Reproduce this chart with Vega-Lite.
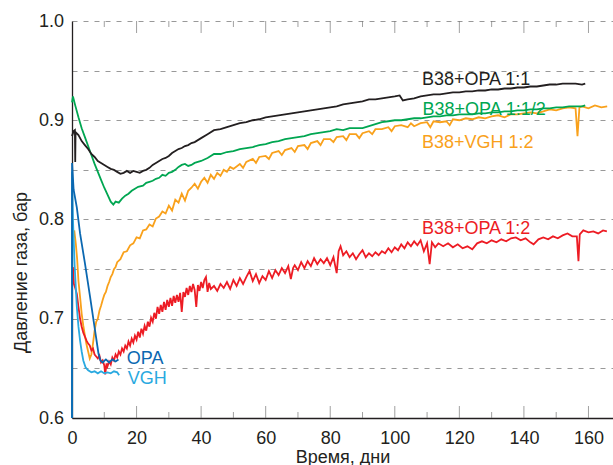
{
  "$schema": "https://vega.github.io/schema/vega-lite/v6.json",
  "width": 541,
  "height": 397,
  "autosize": {"type": "none"},
  "padding": {"left": 72, "top": 21, "right": 0, "bottom": 47},
  "background": "white",
  "config": {
    "view": {"stroke": null},
    "font": "Liberation Sans",
    "axis": {"labelFont": "Liberation Sans", "titleFont": "Liberation Sans", "labelFontSize": 18, "titleFontSize": 18, "labelColor": "#231f20", "titleColor": "#231f20", "titleFontWeight": "normal", "domainColor": "#231f20", "domainWidth": 1.3}
  },
  "datasets": {
    "lines": [
      {"series":"B38+VGH 1:2","t":0.7,"p":0.789},{"series":"B38+VGH 1:2","t":1.2,"p":0.775},{"series":"B38+VGH 1:2","t":1.6,"p":0.760},{"series":"B38+VGH 1:2","t":2,"p":0.738},{"series":"B38+VGH 1:2","t":2.5,"p":0.722},{"series":"B38+VGH 1:2","t":3,"p":0.705},{"series":"B38+VGH 1:2","t":3.5,"p":0.693},{"series":"B38+VGH 1:2","t":4,"p":0.683},{"series":"B38+VGH 1:2","t":4.5,"p":0.674},{"series":"B38+VGH 1:2","t":5,"p":0.667},{"series":"B38+VGH 1:2","t":5.5,"p":0.660},{"series":"B38+VGH 1:2","t":6,"p":0.664},{"series":"B38+VGH 1:2","t":6.5,"p":0.675},{"series":"B38+VGH 1:2","t":7,"p":0.688},{"series":"B38+VGH 1:2","t":7.5,"p":0.697},{"series":"B38+VGH 1:2","t":8,"p":0.700},{"series":"B38+VGH 1:2","t":8.5,"p":0.708},{"series":"B38+VGH 1:2","t":9,"p":0.713},{"series":"B38+VGH 1:2","t":9.5,"p":0.719},{"series":"B38+VGH 1:2","t":10,"p":0.724},{"series":"B38+VGH 1:2","t":10.5,"p":0.727},{"series":"B38+VGH 1:2","t":11,"p":0.733},{"series":"B38+VGH 1:2","t":11.5,"p":0.737},{"series":"B38+VGH 1:2","t":12,"p":0.742},{"series":"B38+VGH 1:2","t":12.5,"p":0.745},{"series":"B38+VGH 1:2","t":13,"p":0.750},{"series":"B38+VGH 1:2","t":13.5,"p":0.752},{"series":"B38+VGH 1:2","t":14,"p":0.757},{"series":"B38+VGH 1:2","t":15,"p":0.760},{"series":"B38+VGH 1:2","t":16,"p":0.767},{"series":"B38+VGH 1:2","t":17,"p":0.768},{"series":"B38+VGH 1:2","t":18,"p":0.774},{"series":"B38+VGH 1:2","t":19,"p":0.776},{"series":"B38+VGH 1:2","t":20,"p":0.782},{"series":"B38+VGH 1:2","t":21,"p":0.781},{"series":"B38+VGH 1:2","t":22,"p":0.789},{"series":"B38+VGH 1:2","t":23,"p":0.790},{"series":"B38+VGH 1:2","t":24,"p":0.795},{"series":"B38+VGH 1:2","t":25,"p":0.793},{"series":"B38+VGH 1:2","t":26,"p":0.801},{"series":"B38+VGH 1:2","t":27,"p":0.803},{"series":"B38+VGH 1:2","t":28,"p":0.808},{"series":"B38+VGH 1:2","t":29,"p":0.806},{"series":"B38+VGH 1:2","t":30,"p":0.814},{"series":"B38+VGH 1:2","t":31,"p":0.809},{"series":"B38+VGH 1:2","t":32,"p":0.820},{"series":"B38+VGH 1:2","t":33,"p":0.817},{"series":"B38+VGH 1:2","t":34,"p":0.826},{"series":"B38+VGH 1:2","t":35,"p":0.819},{"series":"B38+VGH 1:2","t":36,"p":0.829},{"series":"B38+VGH 1:2","t":37,"p":0.832},{"series":"B38+VGH 1:2","t":38,"p":0.836},{"series":"B38+VGH 1:2","t":39,"p":0.831},{"series":"B38+VGH 1:2","t":40,"p":0.838},{"series":"B38+VGH 1:2","t":41,"p":0.842},{"series":"B38+VGH 1:2","t":42,"p":0.837},{"series":"B38+VGH 1:2","t":43,"p":0.845},{"series":"B38+VGH 1:2","t":44,"p":0.841},{"series":"B38+VGH 1:2","t":45,"p":0.847},{"series":"B38+VGH 1:2","t":46,"p":0.844},{"series":"B38+VGH 1:2","t":47,"p":0.850},{"series":"B38+VGH 1:2","t":48,"p":0.848},{"series":"B38+VGH 1:2","t":49,"p":0.853},{"series":"B38+VGH 1:2","t":50,"p":0.851},{"series":"B38+VGH 1:2","t":52,"p":0.856},{"series":"B38+VGH 1:2","t":53,"p":0.852},{"series":"B38+VGH 1:2","t":54,"p":0.858},{"series":"B38+VGH 1:2","t":56,"p":0.861},{"series":"B38+VGH 1:2","t":57,"p":0.857},{"series":"B38+VGH 1:2","t":58,"p":0.863},{"series":"B38+VGH 1:2","t":60,"p":0.864},{"series":"B38+VGH 1:2","t":61,"p":0.861},{"series":"B38+VGH 1:2","t":62,"p":0.867},{"series":"B38+VGH 1:2","t":64,"p":0.869},{"series":"B38+VGH 1:2","t":65,"p":0.865},{"series":"B38+VGH 1:2","t":66,"p":0.870},{"series":"B38+VGH 1:2","t":68,"p":0.872},{"series":"B38+VGH 1:2","t":69,"p":0.868},{"series":"B38+VGH 1:2","t":70,"p":0.874},{"series":"B38+VGH 1:2","t":72,"p":0.875},{"series":"B38+VGH 1:2","t":73,"p":0.871},{"series":"B38+VGH 1:2","t":74,"p":0.877},{"series":"B38+VGH 1:2","t":76,"p":0.879},{"series":"B38+VGH 1:2","t":77,"p":0.875},{"series":"B38+VGH 1:2","t":78,"p":0.881},{"series":"B38+VGH 1:2","t":80,"p":0.881},{"series":"B38+VGH 1:2","t":81,"p":0.878},{"series":"B38+VGH 1:2","t":82,"p":0.883},{"series":"B38+VGH 1:2","t":84,"p":0.884},{"series":"B38+VGH 1:2","t":85,"p":0.880},{"series":"B38+VGH 1:2","t":86,"p":0.886},{"series":"B38+VGH 1:2","t":88,"p":0.886},{"series":"B38+VGH 1:2","t":89,"p":0.882},{"series":"B38+VGH 1:2","t":90,"p":0.887},{"series":"B38+VGH 1:2","t":92,"p":0.889},{"series":"B38+VGH 1:2","t":93,"p":0.886},{"series":"B38+VGH 1:2","t":94,"p":0.891},{"series":"B38+VGH 1:2","t":96,"p":0.891},{"series":"B38+VGH 1:2","t":98,"p":0.893},{"series":"B38+VGH 1:2","t":99,"p":0.889},{"series":"B38+VGH 1:2","t":100,"p":0.894},{"series":"B38+VGH 1:2","t":102,"p":0.895},{"series":"B38+VGH 1:2","t":104,"p":0.893},{"series":"B38+VGH 1:2","t":105,"p":0.897},{"series":"B38+VGH 1:2","t":106,"p":0.894},{"series":"B38+VGH 1:2","t":108,"p":0.897},{"series":"B38+VGH 1:2","t":110,"p":0.898},{"series":"B38+VGH 1:2","t":111,"p":0.893},{"series":"B38+VGH 1:2","t":112,"p":0.899},{"series":"B38+VGH 1:2","t":114,"p":0.898},{"series":"B38+VGH 1:2","t":116,"p":0.899},{"series":"B38+VGH 1:2","t":117,"p":0.895},{"series":"B38+VGH 1:2","t":118,"p":0.901},{"series":"B38+VGH 1:2","t":120,"p":0.900},{"series":"B38+VGH 1:2","t":122,"p":0.902},{"series":"B38+VGH 1:2","t":124,"p":0.901},{"series":"B38+VGH 1:2","t":126,"p":0.903},{"series":"B38+VGH 1:2","t":128,"p":0.902},{"series":"B38+VGH 1:2","t":130,"p":0.904},{"series":"B38+VGH 1:2","t":132,"p":0.905},{"series":"B38+VGH 1:2","t":134,"p":0.903},{"series":"B38+VGH 1:2","t":136,"p":0.906},{"series":"B38+VGH 1:2","t":138,"p":0.906},{"series":"B38+VGH 1:2","t":140,"p":0.907},{"series":"B38+VGH 1:2","t":142,"p":0.908},{"series":"B38+VGH 1:2","t":144,"p":0.907},{"series":"B38+VGH 1:2","t":146,"p":0.909},{"series":"B38+VGH 1:2","t":148,"p":0.911},{"series":"B38+VGH 1:2","t":150,"p":0.910},{"series":"B38+VGH 1:2","t":152,"p":0.912},{"series":"B38+VGH 1:2","t":154,"p":0.913},{"series":"B38+VGH 1:2","t":156,"p":0.912},{"series":"B38+VGH 1:2","t":156.6,"p":0.884},{"series":"B38+VGH 1:2","t":157.2,"p":0.913},{"series":"B38+VGH 1:2","t":158,"p":0.914},{"series":"B38+VGH 1:2","t":160,"p":0.912},{"series":"B38+VGH 1:2","t":162,"p":0.915},{"series":"B38+VGH 1:2","t":164,"p":0.913},{"series":"B38+VGH 1:2","t":165.8,"p":0.914},

      {"series":"B38+OPA 1:1/2","t":0,"p":0.918},{"series":"B38+OPA 1:1/2","t":0.3,"p":0.924},{"series":"B38+OPA 1:1/2","t":1,"p":0.915},{"series":"B38+OPA 1:1/2","t":2,"p":0.903},{"series":"B38+OPA 1:1/2","t":3,"p":0.892},{"series":"B38+OPA 1:1/2","t":4,"p":0.883},{"series":"B38+OPA 1:1/2","t":5,"p":0.874},{"series":"B38+OPA 1:1/2","t":6,"p":0.865},{"series":"B38+OPA 1:1/2","t":7,"p":0.856},{"series":"B38+OPA 1:1/2","t":8,"p":0.848},{"series":"B38+OPA 1:1/2","t":9,"p":0.840},{"series":"B38+OPA 1:1/2","t":10,"p":0.832},{"series":"B38+OPA 1:1/2","t":11,"p":0.825},{"series":"B38+OPA 1:1/2","t":12,"p":0.818},{"series":"B38+OPA 1:1/2","t":12.8,"p":0.815},{"series":"B38+OPA 1:1/2","t":13.5,"p":0.818},{"series":"B38+OPA 1:1/2","t":14.5,"p":0.817},{"series":"B38+OPA 1:1/2","t":15.5,"p":0.821},{"series":"B38+OPA 1:1/2","t":16.5,"p":0.824},{"series":"B38+OPA 1:1/2","t":17.5,"p":0.826},{"series":"B38+OPA 1:1/2","t":18.5,"p":0.829},{"series":"B38+OPA 1:1/2","t":19.5,"p":0.831},{"series":"B38+OPA 1:1/2","t":20.5,"p":0.833},{"series":"B38+OPA 1:1/2","t":22,"p":0.834},{"series":"B38+OPA 1:1/2","t":23,"p":0.837},{"series":"B38+OPA 1:1/2","t":24,"p":0.838},{"series":"B38+OPA 1:1/2","t":25,"p":0.839},{"series":"B38+OPA 1:1/2","t":26,"p":0.841},{"series":"B38+OPA 1:1/2","t":27,"p":0.842},{"series":"B38+OPA 1:1/2","t":28,"p":0.845},{"series":"B38+OPA 1:1/2","t":29,"p":0.844},{"series":"B38+OPA 1:1/2","t":30,"p":0.847},{"series":"B38+OPA 1:1/2","t":31,"p":0.848},{"series":"B38+OPA 1:1/2","t":32,"p":0.850},{"series":"B38+OPA 1:1/2","t":33,"p":0.853},{"series":"B38+OPA 1:1/2","t":34,"p":0.855},{"series":"B38+OPA 1:1/2","t":35,"p":0.856},{"series":"B38+OPA 1:1/2","t":36,"p":0.854},{"series":"B38+OPA 1:1/2","t":37,"p":0.855},{"series":"B38+OPA 1:1/2","t":38,"p":0.857},{"series":"B38+OPA 1:1/2","t":40,"p":0.859},{"series":"B38+OPA 1:1/2","t":42,"p":0.862},{"series":"B38+OPA 1:1/2","t":44,"p":0.866},{"series":"B38+OPA 1:1/2","t":46,"p":0.866},{"series":"B38+OPA 1:1/2","t":48,"p":0.868},{"series":"B38+OPA 1:1/2","t":50,"p":0.869},{"series":"B38+OPA 1:1/2","t":52,"p":0.871},{"series":"B38+OPA 1:1/2","t":54,"p":0.872},{"series":"B38+OPA 1:1/2","t":56,"p":0.873},{"series":"B38+OPA 1:1/2","t":58,"p":0.875},{"series":"B38+OPA 1:1/2","t":60,"p":0.876},{"series":"B38+OPA 1:1/2","t":62,"p":0.878},{"series":"B38+OPA 1:1/2","t":64,"p":0.879},{"series":"B38+OPA 1:1/2","t":66,"p":0.881},{"series":"B38+OPA 1:1/2","t":68,"p":0.882},{"series":"B38+OPA 1:1/2","t":70,"p":0.883},{"series":"B38+OPA 1:1/2","t":72,"p":0.884},{"series":"B38+OPA 1:1/2","t":74,"p":0.886},{"series":"B38+OPA 1:1/2","t":76,"p":0.887},{"series":"B38+OPA 1:1/2","t":78,"p":0.888},{"series":"B38+OPA 1:1/2","t":80,"p":0.889},{"series":"B38+OPA 1:1/2","t":82,"p":0.891},{"series":"B38+OPA 1:1/2","t":84,"p":0.890},{"series":"B38+OPA 1:1/2","t":86,"p":0.892},{"series":"B38+OPA 1:1/2","t":88,"p":0.892},{"series":"B38+OPA 1:1/2","t":90,"p":0.892},{"series":"B38+OPA 1:1/2","t":92,"p":0.894},{"series":"B38+OPA 1:1/2","t":94,"p":0.896},{"series":"B38+OPA 1:1/2","t":96,"p":0.898},{"series":"B38+OPA 1:1/2","t":98,"p":0.899},{"series":"B38+OPA 1:1/2","t":100,"p":0.900},{"series":"B38+OPA 1:1/2","t":102,"p":0.900},{"series":"B38+OPA 1:1/2","t":104,"p":0.901},{"series":"B38+OPA 1:1/2","t":106,"p":0.902},{"series":"B38+OPA 1:1/2","t":108,"p":0.902},{"series":"B38+OPA 1:1/2","t":110,"p":0.903},{"series":"B38+OPA 1:1/2","t":112,"p":0.904},{"series":"B38+OPA 1:1/2","t":114,"p":0.904},{"series":"B38+OPA 1:1/2","t":116,"p":0.905},{"series":"B38+OPA 1:1/2","t":118,"p":0.905},{"series":"B38+OPA 1:1/2","t":120,"p":0.906},{"series":"B38+OPA 1:1/2","t":122,"p":0.906},{"series":"B38+OPA 1:1/2","t":124,"p":0.906},{"series":"B38+OPA 1:1/2","t":126,"p":0.907},{"series":"B38+OPA 1:1/2","t":128,"p":0.907},{"series":"B38+OPA 1:1/2","t":130,"p":0.908},{"series":"B38+OPA 1:1/2","t":132,"p":0.908},{"series":"B38+OPA 1:1/2","t":134,"p":0.909},{"series":"B38+OPA 1:1/2","t":136,"p":0.909},{"series":"B38+OPA 1:1/2","t":138,"p":0.910},{"series":"B38+OPA 1:1/2","t":140,"p":0.910},{"series":"B38+OPA 1:1/2","t":142,"p":0.911},{"series":"B38+OPA 1:1/2","t":144,"p":0.911},{"series":"B38+OPA 1:1/2","t":146,"p":0.912},{"series":"B38+OPA 1:1/2","t":148,"p":0.912},{"series":"B38+OPA 1:1/2","t":150,"p":0.913},{"series":"B38+OPA 1:1/2","t":152,"p":0.913},{"series":"B38+OPA 1:1/2","t":154,"p":0.914},{"series":"B38+OPA 1:1/2","t":156,"p":0.914},{"series":"B38+OPA 1:1/2","t":158,"p":0.914},{"series":"B38+OPA 1:1/2","t":159,"p":0.915},

      {"series":"B38+OPA 1:1","t":0,"p":0.884},{"series":"B38+OPA 1:1","t":0.5,"p":0.889},{"series":"B38+OPA 1:1","t":0.9,"p":0.890},{"series":"B38+OPA 1:1","t":1.0,"p":0.858},{"series":"B38+OPA 1:1","t":1.1,"p":0.888},{"series":"B38+OPA 1:1","t":2,"p":0.885},{"series":"B38+OPA 1:1","t":3,"p":0.879},{"series":"B38+OPA 1:1","t":4,"p":0.875},{"series":"B38+OPA 1:1","t":5,"p":0.871},{"series":"B38+OPA 1:1","t":6,"p":0.866},{"series":"B38+OPA 1:1","t":7,"p":0.863},{"series":"B38+OPA 1:1","t":8,"p":0.859},{"series":"B38+OPA 1:1","t":9,"p":0.857},{"series":"B38+OPA 1:1","t":10,"p":0.855},{"series":"B38+OPA 1:1","t":11,"p":0.853},{"series":"B38+OPA 1:1","t":12,"p":0.851},{"series":"B38+OPA 1:1","t":13,"p":0.850},{"series":"B38+OPA 1:1","t":14,"p":0.848},{"series":"B38+OPA 1:1","t":15,"p":0.846},{"series":"B38+OPA 1:1","t":16,"p":0.847},{"series":"B38+OPA 1:1","t":17,"p":0.849},{"series":"B38+OPA 1:1","t":18,"p":0.847},{"series":"B38+OPA 1:1","t":19,"p":0.849},{"series":"B38+OPA 1:1","t":20,"p":0.848},{"series":"B38+OPA 1:1","t":21,"p":0.847},{"series":"B38+OPA 1:1","t":22,"p":0.849},{"series":"B38+OPA 1:1","t":23,"p":0.850},{"series":"B38+OPA 1:1","t":24,"p":0.852},{"series":"B38+OPA 1:1","t":25,"p":0.855},{"series":"B38+OPA 1:1","t":26,"p":0.857},{"series":"B38+OPA 1:1","t":27,"p":0.859},{"series":"B38+OPA 1:1","t":28,"p":0.861},{"series":"B38+OPA 1:1","t":29,"p":0.862},{"series":"B38+OPA 1:1","t":30,"p":0.864},{"series":"B38+OPA 1:1","t":31,"p":0.867},{"series":"B38+OPA 1:1","t":32,"p":0.869},{"series":"B38+OPA 1:1","t":33,"p":0.871},{"series":"B38+OPA 1:1","t":34,"p":0.872},{"series":"B38+OPA 1:1","t":35,"p":0.874},{"series":"B38+OPA 1:1","t":36,"p":0.875},{"series":"B38+OPA 1:1","t":37,"p":0.877},{"series":"B38+OPA 1:1","t":38,"p":0.878},{"series":"B38+OPA 1:1","t":40,"p":0.882},{"series":"B38+OPA 1:1","t":42,"p":0.886},{"series":"B38+OPA 1:1","t":44,"p":0.890},{"series":"B38+OPA 1:1","t":46,"p":0.891},{"series":"B38+OPA 1:1","t":48,"p":0.893},{"series":"B38+OPA 1:1","t":50,"p":0.895},{"series":"B38+OPA 1:1","t":52,"p":0.897},{"series":"B38+OPA 1:1","t":54,"p":0.898},{"series":"B38+OPA 1:1","t":56,"p":0.900},{"series":"B38+OPA 1:1","t":58,"p":0.901},{"series":"B38+OPA 1:1","t":60,"p":0.903},{"series":"B38+OPA 1:1","t":62,"p":0.904},{"series":"B38+OPA 1:1","t":64,"p":0.905},{"series":"B38+OPA 1:1","t":66,"p":0.906},{"series":"B38+OPA 1:1","t":68,"p":0.907},{"series":"B38+OPA 1:1","t":70,"p":0.908},{"series":"B38+OPA 1:1","t":72,"p":0.909},{"series":"B38+OPA 1:1","t":74,"p":0.910},{"series":"B38+OPA 1:1","t":76,"p":0.911},{"series":"B38+OPA 1:1","t":78,"p":0.912},{"series":"B38+OPA 1:1","t":80,"p":0.913},{"series":"B38+OPA 1:1","t":82,"p":0.914},{"series":"B38+OPA 1:1","t":84,"p":0.916},{"series":"B38+OPA 1:1","t":86,"p":0.917},{"series":"B38+OPA 1:1","t":88,"p":0.918},{"series":"B38+OPA 1:1","t":90,"p":0.919},{"series":"B38+OPA 1:1","t":92,"p":0.921},{"series":"B38+OPA 1:1","t":94,"p":0.921},{"series":"B38+OPA 1:1","t":96,"p":0.922},{"series":"B38+OPA 1:1","t":98,"p":0.923},{"series":"B38+OPA 1:1","t":100,"p":0.924},{"series":"B38+OPA 1:1","t":101.5,"p":0.925},{"series":"B38+OPA 1:1","t":102.5,"p":0.920},{"series":"B38+OPA 1:1","t":104,"p":0.921},{"series":"B38+OPA 1:1","t":106,"p":0.922},{"series":"B38+OPA 1:1","t":108,"p":0.924},{"series":"B38+OPA 1:1","t":110,"p":0.925},{"series":"B38+OPA 1:1","t":112,"p":0.926},{"series":"B38+OPA 1:1","t":114,"p":0.926},{"series":"B38+OPA 1:1","t":116,"p":0.927},{"series":"B38+OPA 1:1","t":118,"p":0.928},{"series":"B38+OPA 1:1","t":120,"p":0.928},{"series":"B38+OPA 1:1","t":122,"p":0.929},{"series":"B38+OPA 1:1","t":124,"p":0.929},{"series":"B38+OPA 1:1","t":126,"p":0.930},{"series":"B38+OPA 1:1","t":128,"p":0.930},{"series":"B38+OPA 1:1","t":130,"p":0.931},{"series":"B38+OPA 1:1","t":132,"p":0.931},{"series":"B38+OPA 1:1","t":134,"p":0.932},{"series":"B38+OPA 1:1","t":136,"p":0.932},{"series":"B38+OPA 1:1","t":138,"p":0.933},{"series":"B38+OPA 1:1","t":140,"p":0.933},{"series":"B38+OPA 1:1","t":142,"p":0.934},{"series":"B38+OPA 1:1","t":144,"p":0.934},{"series":"B38+OPA 1:1","t":146,"p":0.935},{"series":"B38+OPA 1:1","t":148,"p":0.936},{"series":"B38+OPA 1:1","t":150,"p":0.936},{"series":"B38+OPA 1:1","t":152,"p":0.937},{"series":"B38+OPA 1:1","t":154,"p":0.937},{"series":"B38+OPA 1:1","t":156,"p":0.937},{"series":"B38+OPA 1:1","t":158,"p":0.936},{"series":"B38+OPA 1:1","t":159,"p":0.937},

      {"series":"B38+OPA 1:2","t":0.3,"p":0.752},{"series":"B38+OPA 1:2","t":0.6,"p":0.735},{"series":"B38+OPA 1:2","t":1,"p":0.731},{"series":"B38+OPA 1:2","t":1.5,"p":0.725},{"series":"B38+OPA 1:2","t":2,"p":0.712},{"series":"B38+OPA 1:2","t":2.5,"p":0.700},{"series":"B38+OPA 1:2","t":3,"p":0.692},{"series":"B38+OPA 1:2","t":3.5,"p":0.686},{"series":"B38+OPA 1:2","t":4,"p":0.682},{"series":"B38+OPA 1:2","t":4.5,"p":0.678},{"series":"B38+OPA 1:2","t":5,"p":0.675},{"series":"B38+OPA 1:2","t":5.5,"p":0.673},{"series":"B38+OPA 1:2","t":6,"p":0.668},{"series":"B38+OPA 1:2","t":6.5,"p":0.670},{"series":"B38+OPA 1:2","t":7,"p":0.664},{"series":"B38+OPA 1:2","t":7.5,"p":0.662},{"series":"B38+OPA 1:2","t":8,"p":0.660},{"series":"B38+OPA 1:2","t":8.5,"p":0.663},{"series":"B38+OPA 1:2","t":9,"p":0.656},{"series":"B38+OPA 1:2","t":9.5,"p":0.658},{"series":"B38+OPA 1:2","t":10,"p":0.653},{"series":"B38+OPA 1:2","t":10.3,"p":0.644},{"series":"B38+OPA 1:2","t":10.7,"p":0.655},{"series":"B38+OPA 1:2","t":11,"p":0.652},{"series":"B38+OPA 1:2","t":11.5,"p":0.657},{"series":"B38+OPA 1:2","t":12,"p":0.654},{"series":"B38+OPA 1:2","t":12.5,"p":0.661},{"series":"B38+OPA 1:2","t":13,"p":0.658},{"series":"B38+OPA 1:2","t":13.5,"p":0.664},{"series":"B38+OPA 1:2","t":14,"p":0.661},{"series":"B38+OPA 1:2","t":14.5,"p":0.667},{"series":"B38+OPA 1:2","t":15,"p":0.664},{"series":"B38+OPA 1:2","t":15.5,"p":0.670},{"series":"B38+OPA 1:2","t":16,"p":0.667},{"series":"B38+OPA 1:2","t":16.5,"p":0.673},{"series":"B38+OPA 1:2","t":17,"p":0.670},{"series":"B38+OPA 1:2","t":17.5,"p":0.677},{"series":"B38+OPA 1:2","t":18,"p":0.673},{"series":"B38+OPA 1:2","t":18.5,"p":0.680},{"series":"B38+OPA 1:2","t":19,"p":0.676},{"series":"B38+OPA 1:2","t":19.5,"p":0.683},{"series":"B38+OPA 1:2","t":20,"p":0.679},{"series":"B38+OPA 1:2","t":20.5,"p":0.687},{"series":"B38+OPA 1:2","t":21,"p":0.681},{"series":"B38+OPA 1:2","t":21.5,"p":0.690},{"series":"B38+OPA 1:2","t":22,"p":0.685},{"series":"B38+OPA 1:2","t":22.5,"p":0.693},{"series":"B38+OPA 1:2","t":23,"p":0.688},{"series":"B38+OPA 1:2","t":23.5,"p":0.697},{"series":"B38+OPA 1:2","t":24,"p":0.692},{"series":"B38+OPA 1:2","t":24.5,"p":0.701},{"series":"B38+OPA 1:2","t":25,"p":0.697},{"series":"B38+OPA 1:2","t":25.5,"p":0.706},{"series":"B38+OPA 1:2","t":26,"p":0.700},{"series":"B38+OPA 1:2","t":26.5,"p":0.712},{"series":"B38+OPA 1:2","t":27,"p":0.705},{"series":"B38+OPA 1:2","t":27.5,"p":0.714},{"series":"B38+OPA 1:2","t":28,"p":0.707},{"series":"B38+OPA 1:2","t":28.5,"p":0.717},{"series":"B38+OPA 1:2","t":29,"p":0.709},{"series":"B38+OPA 1:2","t":29.5,"p":0.719},{"series":"B38+OPA 1:2","t":30,"p":0.712},{"series":"B38+OPA 1:2","t":30.5,"p":0.721},{"series":"B38+OPA 1:2","t":31,"p":0.713},{"series":"B38+OPA 1:2","t":31.5,"p":0.723},{"series":"B38+OPA 1:2","t":32,"p":0.716},{"series":"B38+OPA 1:2","t":32.5,"p":0.724},{"series":"B38+OPA 1:2","t":33,"p":0.717},{"series":"B38+OPA 1:2","t":33.5,"p":0.726},{"series":"B38+OPA 1:2","t":34,"p":0.707},{"series":"B38+OPA 1:2","t":34.5,"p":0.727},{"series":"B38+OPA 1:2","t":35,"p":0.722},{"series":"B38+OPA 1:2","t":35.5,"p":0.731},{"series":"B38+OPA 1:2","t":36,"p":0.724},{"series":"B38+OPA 1:2","t":36.5,"p":0.733},{"series":"B38+OPA 1:2","t":37,"p":0.727},{"series":"B38+OPA 1:2","t":37.5,"p":0.735},{"series":"B38+OPA 1:2","t":38,"p":0.729},{"series":"B38+OPA 1:2","t":38.5,"p":0.712},{"series":"B38+OPA 1:2","t":39,"p":0.734},{"series":"B38+OPA 1:2","t":39.5,"p":0.728},{"series":"B38+OPA 1:2","t":40,"p":0.737},{"series":"B38+OPA 1:2","t":40.5,"p":0.731},{"series":"B38+OPA 1:2","t":41,"p":0.739},{"series":"B38+OPA 1:2","t":41.5,"p":0.742},{"series":"B38+OPA 1:2","t":42,"p":0.727},{"series":"B38+OPA 1:2","t":42.5,"p":0.736},{"series":"B38+OPA 1:2","t":43,"p":0.730},{"series":"B38+OPA 1:2","t":44,"p":0.733},{"series":"B38+OPA 1:2","t":45,"p":0.728},{"series":"B38+OPA 1:2","t":46,"p":0.735},{"series":"B38+OPA 1:2","t":47,"p":0.731},{"series":"B38+OPA 1:2","t":48,"p":0.737},{"series":"B38+OPA 1:2","t":49,"p":0.730},{"series":"B38+OPA 1:2","t":50,"p":0.739},{"series":"B38+OPA 1:2","t":51,"p":0.733},{"series":"B38+OPA 1:2","t":52,"p":0.741},{"series":"B38+OPA 1:2","t":53,"p":0.735},{"series":"B38+OPA 1:2","t":54,"p":0.742},{"series":"B38+OPA 1:2","t":55,"p":0.748},{"series":"B38+OPA 1:2","t":56,"p":0.738},{"series":"B38+OPA 1:2","t":57,"p":0.745},{"series":"B38+OPA 1:2","t":58,"p":0.736},{"series":"B38+OPA 1:2","t":59,"p":0.743},{"series":"B38+OPA 1:2","t":60,"p":0.739},{"series":"B38+OPA 1:2","t":61,"p":0.748},{"series":"B38+OPA 1:2","t":62,"p":0.741},{"series":"B38+OPA 1:2","t":63,"p":0.749},{"series":"B38+OPA 1:2","t":64,"p":0.744},{"series":"B38+OPA 1:2","t":65,"p":0.751},{"series":"B38+OPA 1:2","t":66,"p":0.746},{"series":"B38+OPA 1:2","t":67,"p":0.753},{"series":"B38+OPA 1:2","t":67.8,"p":0.740},{"series":"B38+OPA 1:2","t":68.5,"p":0.751},{"series":"B38+OPA 1:2","t":69,"p":0.754},{"series":"B38+OPA 1:2","t":70,"p":0.749},{"series":"B38+OPA 1:2","t":71,"p":0.757},{"series":"B38+OPA 1:2","t":72,"p":0.751},{"series":"B38+OPA 1:2","t":73,"p":0.758},{"series":"B38+OPA 1:2","t":74,"p":0.753},{"series":"B38+OPA 1:2","t":75,"p":0.761},{"series":"B38+OPA 1:2","t":76,"p":0.755},{"series":"B38+OPA 1:2","t":77,"p":0.760},{"series":"B38+OPA 1:2","t":78,"p":0.756},{"series":"B38+OPA 1:2","t":79,"p":0.761},{"series":"B38+OPA 1:2","t":80,"p":0.754},{"series":"B38+OPA 1:2","t":81,"p":0.762},{"series":"B38+OPA 1:2","t":82,"p":0.746},{"series":"B38+OPA 1:2","t":82.6,"p":0.768},{"series":"B38+OPA 1:2","t":83.2,"p":0.773},{"series":"B38+OPA 1:2","t":84,"p":0.764},{"series":"B38+OPA 1:2","t":85,"p":0.768},{"series":"B38+OPA 1:2","t":86,"p":0.762},{"series":"B38+OPA 1:2","t":87,"p":0.766},{"series":"B38+OPA 1:2","t":88,"p":0.760},{"series":"B38+OPA 1:2","t":89,"p":0.765},{"series":"B38+OPA 1:2","t":90,"p":0.769},{"series":"B38+OPA 1:2","t":91,"p":0.762},{"series":"B38+OPA 1:2","t":92,"p":0.766},{"series":"B38+OPA 1:2","t":93,"p":0.763},{"series":"B38+OPA 1:2","t":94,"p":0.767},{"series":"B38+OPA 1:2","t":95,"p":0.764},{"series":"B38+OPA 1:2","t":96,"p":0.768},{"series":"B38+OPA 1:2","t":97,"p":0.766},{"series":"B38+OPA 1:2","t":98,"p":0.771},{"series":"B38+OPA 1:2","t":99,"p":0.767},{"series":"B38+OPA 1:2","t":100,"p":0.772},{"series":"B38+OPA 1:2","t":101,"p":0.769},{"series":"B38+OPA 1:2","t":102,"p":0.775},{"series":"B38+OPA 1:2","t":103,"p":0.771},{"series":"B38+OPA 1:2","t":104,"p":0.777},{"series":"B38+OPA 1:2","t":105,"p":0.773},{"series":"B38+OPA 1:2","t":106,"p":0.778},{"series":"B38+OPA 1:2","t":107,"p":0.774},{"series":"B38+OPA 1:2","t":108,"p":0.779},{"series":"B38+OPA 1:2","t":109,"p":0.768},{"series":"B38+OPA 1:2","t":110,"p":0.776},{"series":"B38+OPA 1:2","t":110.8,"p":0.755},{"series":"B38+OPA 1:2","t":111.5,"p":0.777},{"series":"B38+OPA 1:2","t":112.5,"p":0.772},{"series":"B38+OPA 1:2","t":113.5,"p":0.776},{"series":"B38+OPA 1:2","t":115,"p":0.773},{"series":"B38+OPA 1:2","t":116.5,"p":0.776},{"series":"B38+OPA 1:2","t":118,"p":0.772},{"series":"B38+OPA 1:2","t":119.5,"p":0.775},{"series":"B38+OPA 1:2","t":121,"p":0.771},{"series":"B38+OPA 1:2","t":122.5,"p":0.773},{"series":"B38+OPA 1:2","t":124,"p":0.770},{"series":"B38+OPA 1:2","t":125.5,"p":0.776},{"series":"B38+OPA 1:2","t":127,"p":0.778},{"series":"B38+OPA 1:2","t":128.5,"p":0.776},{"series":"B38+OPA 1:2","t":130,"p":0.779},{"series":"B38+OPA 1:2","t":131.5,"p":0.777},{"series":"B38+OPA 1:2","t":133,"p":0.780},{"series":"B38+OPA 1:2","t":134.5,"p":0.778},{"series":"B38+OPA 1:2","t":136,"p":0.781},{"series":"B38+OPA 1:2","t":137.5,"p":0.782},{"series":"B38+OPA 1:2","t":139,"p":0.779},{"series":"B38+OPA 1:2","t":140.5,"p":0.781},{"series":"B38+OPA 1:2","t":142,"p":0.777},{"series":"B38+OPA 1:2","t":143,"p":0.775},{"series":"B38+OPA 1:2","t":144.5,"p":0.780},{"series":"B38+OPA 1:2","t":146,"p":0.782},{"series":"B38+OPA 1:2","t":147.5,"p":0.780},{"series":"B38+OPA 1:2","t":149,"p":0.783},{"series":"B38+OPA 1:2","t":150.5,"p":0.781},{"series":"B38+OPA 1:2","t":152,"p":0.784},{"series":"B38+OPA 1:2","t":153.5,"p":0.786},{"series":"B38+OPA 1:2","t":155,"p":0.783},{"series":"B38+OPA 1:2","t":156.4,"p":0.783},{"series":"B38+OPA 1:2","t":156.9,"p":0.758},{"series":"B38+OPA 1:2","t":157.3,"p":0.785},{"series":"B38+OPA 1:2","t":158.4,"p":0.789},{"series":"B38+OPA 1:2","t":160,"p":0.787},{"series":"B38+OPA 1:2","t":161.5,"p":0.788},{"series":"B38+OPA 1:2","t":163,"p":0.786},{"series":"B38+OPA 1:2","t":164.5,"p":0.789},{"series":"B38+OPA 1:2","t":165.7,"p":0.788},

      {"series":"VGH","t":0,"p":0.600},{"series":"VGH","t":0.02,"p":0.848},{"series":"VGH","t":0.3,"p":0.800},{"series":"VGH","t":0.8,"p":0.755},{"series":"VGH","t":1.5,"p":0.712},{"series":"VGH","t":2,"p":0.692},{"series":"VGH","t":2.5,"p":0.678},{"series":"VGH","t":3,"p":0.667},{"series":"VGH","t":3.5,"p":0.658},{"series":"VGH","t":4.2,"p":0.651},{"series":"VGH","t":5,"p":0.648},{"series":"VGH","t":6,"p":0.646},{"series":"VGH","t":7,"p":0.647},{"series":"VGH","t":8,"p":0.645},{"series":"VGH","t":9,"p":0.647},{"series":"VGH","t":10,"p":0.645},{"series":"VGH","t":11,"p":0.646},{"series":"VGH","t":12,"p":0.645},{"series":"VGH","t":13,"p":0.647},{"series":"VGH","t":14,"p":0.646},{"series":"VGH","t":14.6,"p":0.643},

      {"series":"OPA","t":0,"p":0.600},{"series":"OPA","t":0.02,"p":0.857},{"series":"OPA","t":0.5,"p":0.830},{"series":"OPA","t":1.5,"p":0.812},{"series":"OPA","t":2.5,"p":0.786},{"series":"OPA","t":4,"p":0.756},{"series":"OPA","t":5.6,"p":0.722},{"series":"OPA","t":7.1,"p":0.689},{"series":"OPA","t":8.2,"p":0.665},{"series":"OPA","t":8.8,"p":0.658},{"series":"OPA","t":9.5,"p":0.656},{"series":"OPA","t":10.5,"p":0.659},{"series":"OPA","t":11.5,"p":0.656},{"series":"OPA","t":12.5,"p":0.659},{"series":"OPA","t":13.5,"p":0.657},{"series":"OPA","t":14.4,"p":0.659}
    ],
    "labels": [
      {"series":"B38+OPA 1:1","label":"B38+OPA 1:1","t":108.4,"p":0.9353},
      {"series":"B38+OPA 1:1/2","label":"B38+OPA 1:1/2","t":108.6,"p":0.9051},
      {"series":"B38+VGH 1:2","label":"B38+VGH 1:2","t":108.4,"p":0.8716},
      {"series":"B38+OPA 1:2","label":"B38+OPA 1:2","t":108.4,"p":0.7854},
      {"series":"OPA","label":"OPA","t":16.95,"p":0.6546},
      {"series":"VGH","label":"VGH","t":17.26,"p":0.6346}
    ],
    "xticks": [
      {"t":10,"kind":"minor"},{"t":20,"kind":"major"},{"t":30,"kind":"minor"},{"t":40,"kind":"major"},{"t":50,"kind":"minor"},{"t":60,"kind":"major"},{"t":70,"kind":"minor"},{"t":80,"kind":"major"},{"t":90,"kind":"minor"},{"t":100,"kind":"major"},{"t":110,"kind":"minor"},{"t":120,"kind":"major"},{"t":130,"kind":"minor"},{"t":140,"kind":"major"},{"t":150,"kind":"minor"},{"t":160,"kind":"major"}
    ]
  },
  "layer": [
    {
      "data": {"name": "lines"},
      "mark": {"type": "line", "strokeWidth": 1.8, "interpolate": "linear"},
      "encoding": {
        "x": {"field": "t", "type": "quantitative", "scale": {"domain": [0, 167.6], "nice": false, "zero": false},
          "axis": {"orient": "bottom", "title": "Время, дни", "values": [0,20,40,60,80,100,120,140,160],
            "labelFlush": false, "labelOverlap": false, "grid": false, "ticks": false,
            "labelPadding": 11, "titleX": 270.5, "titleY": 44, "titleBaseline": "alphabetic", "titleAlign": "center"}},
        "y": {"field": "p", "type": "quantitative", "scale": {"domain": [0.6, 1.0], "nice": false, "zero": false},
          "axis": {"title": "Давление газа, бар", "values": [0.6,0.65,0.7,0.75,0.8,0.85,0.9,0.95,1.0],
            "labelExpr": "abs(datum.value*10 - round(datum.value*10)) < 0.001 ? format(datum.value, '.1f') : ''",
            "labelOverlap": false, "labelFlush": false, "ticks": false, "labelPadding": 8.5, "grid": true, "gridDash": [5, 6], "gridColor": "#999999", "gridWidth": 1,
            "titleAngle": 270, "titleX": -46, "titleY": 251, "titleAlign": "center", "titleBaseline": "alphabetic"}},
        "color": {"field": "series", "type": "nominal", "legend": null,
          "scale": {"domain": ["B38+VGH 1:2", "B38+OPA 1:1/2", "B38+OPA 1:1", "B38+OPA 1:2", "VGH", "OPA"],
                    "range": ["#f9a11b", "#00a651", "#231f20", "#ed1c24", "#29a9e0", "#0b68b1"]}}
      }
    },
    {
      "data": {"name": "labels"},
      "mark": {"type": "text", "fontSize": 18, "font": "Liberation Sans", "align": "left", "baseline": "alphabetic"},
      "encoding": {
        "x": {"field": "t", "type": "quantitative"},
        "y": {"field": "p", "type": "quantitative"},
        "text": {"field": "label"},
        "color": {"field": "series", "type": "nominal", "legend": null}
      }
    },
    {
      "data": {"name": "xticks"},
      "mark": {"type": "tick", "orient": "vertical", "thickness": 1, "color": "#777777", "clip": true},
      "encoding": {
        "x": {"field": "t", "type": "quantitative"},
        "y": {"datum": 0.6},
        "size": {"field": "kind", "type": "nominal", "legend": null, "scale": {"domain": ["major", "minor"], "range": [24, 12]}}
      }
    },
    {
      "data": {"name": "xticks"},
      "mark": {"type": "tick", "orient": "vertical", "thickness": 1, "color": "#777777", "clip": true},
      "encoding": {
        "x": {"field": "t", "type": "quantitative"},
        "y": {"datum": 1.0},
        "size": {"field": "kind", "type": "nominal", "legend": null, "scale": {"domain": ["major", "minor"], "range": [24, 12]}}
      }
    },
    {
      "mark": {"type": "rule", "color": "#231f20", "strokeWidth": 1.3},
      "encoding": {"y": {"datum": 1.0}}
    }
  ]
}
